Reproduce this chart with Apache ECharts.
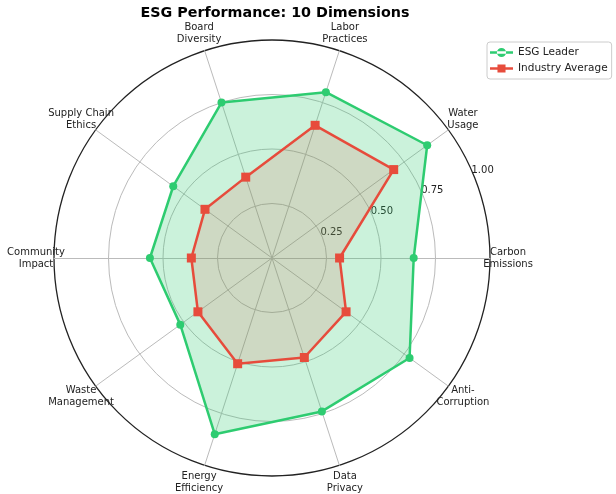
<!DOCTYPE html>
<html>
<head>
<meta charset="utf-8">
<script src="https://cdn.jsdelivr.net/npm/echarts@6/dist/echarts.min.js"></script>
<style>
  html, body { margin: 0; padding: 0; background: #fff; }
  #chart { width: 616px; height: 494px; }
</style>
</head>
<body>
<div id="chart"></div>
<script>
// dimensions, counter-clockwise from the right
var dimensions = ['Carbon\nEmissions', 'Water\nUsage', 'Labor\nPractices', 'Board\nDiversity',
	'Supply Chain\nEthics', 'Community\nImpact', 'Waste\nManagement', 'Energy\nEfficiency',
	'Data\nPrivacy', 'Anti-\nCorruption'];
var esgLeader = [0.65, 0.88, 0.80, 0.75, 0.56, 0.56, 0.52, 0.85, 0.74, 0.78];
var industryAvg = [0.31, 0.69, 0.64, 0.39, 0.38, 0.37, 0.42, 0.51, 0.48, 0.42];
var seriesNames = ['ESG Leader', 'Industry Average'];
var radialTicks = [0, 0.25, 0.5, 0.75, 1.0];

var GREEN = '#2ecc71';
var RED = '#e74c3c';
var FONT = 'DejaVu Sans';

var center = [272, 258];
var radius = 218;

var chart = echarts.init(document.getElementById('chart'));

var indicators = dimensions.map(function (d) {
	return {name: d, min: 0, max: 1};
});

// legend icons: line with marker
var lineDot = 'path://M0,9h40v4h-40z M20,11m-8,0a8,8 0 1,0 16,0a8,8 0 1,0 -16,0z';
var lineSquare = 'path://M0,9h40v4h-40z M13,4h14v14h-14z';

var option = {
	backgroundColor: '#fff',
	animation: false,
	title: {
		text: 'ESG Performance: 10 Dimensions',
		left: 270,
		textAlign: 'center',
		top: 1,
		textStyle: {fontFamily: FONT, fontSize: 14.3, fontWeight: 'bold', color: '#000'}
	},
	legend: {
		orient: 'vertical',
		left: 487,
		top: 42,
		padding: [5, 4, 5, 3],
		itemGap: 5,
		itemWidth: 23,
		itemHeight: 11,
		borderColor: '#ccc',
		borderWidth: 1,
		borderRadius: 3,
		textStyle: {fontFamily: FONT, fontSize: 10.5, color: '#222'},
		data: [
			{name: seriesNames[0], icon: lineDot},
			{name: seriesNames[1], icon: lineSquare}
		]
	},
	radar: [
		{
			center: center,
			radius: radius,
			startAngle: 0,
			shape: 'circle',
			splitNumber: 4,
			indicator: indicators,
			axisName: {
				fontFamily: FONT,
				fontSize: 10,
				color: '#222',
				lineHeight: 12,
				align: 'center',
				verticalAlign: 'middle'
			},
			nameGap: 18,
			axisLine: {lineStyle: {color: '#bbb', width: 1}},
			splitLine: {lineStyle: {color: ['#bbb', '#bbb', '#bbb', '#bbb', 'rgba(0,0,0,0)'], width: 1}},
			splitArea: {show: false}
		},
		{
			// outer black frame
			center: center,
			radius: radius,
			startAngle: 0,
			shape: 'circle',
			splitNumber: 1,
			indicator: indicators.map(function (d) { return {name: '', min: 0, max: 1}; }),
			axisName: {show: false},
			axisLine: {show: false},
			splitLine: {lineStyle: {color: '#222', width: 1.3}},
			splitArea: {show: false}
		}
	],
	polar: {center: center, radius: radius},
	angleAxis: {
		type: 'value',
		startAngle: 22.5,
		min: 0,
		max: 360,
		show: false
	},
	radiusAxis: {
		type: 'value',
		min: 0,
		max: 1,
		interval: 0.25,
		axisLine: {show: false},
		axisTick: {show: false},
		splitLine: {show: false},
		axisLabel: {
			fontFamily: FONT,
			fontSize: 10,
			color: '#222',
			margin: 5,
			align: 'left',
			verticalAlign: 'middle',
			formatter: function (v) {
				return radialTicks.indexOf(v) > 0 ? v.toFixed(2) : '';
			}
		}
	},
	series: [
		{
			name: seriesNames[0],
			type: 'radar',
			radarIndex: 0,
			z: 3,
			symbol: 'circle',
			symbolSize: 8,
			lineStyle: {color: GREEN, width: 2.5},
			itemStyle: {color: GREEN},
			areaStyle: {color: GREEN, opacity: 0.25},
			data: [{value: esgLeader, name: seriesNames[0]}]
		},
		{
			name: seriesNames[1],
			type: 'radar',
			radarIndex: 0,
			z: 4,
			symbol: 'rect',
			symbolSize: 9,
			lineStyle: {color: RED, width: 2.5},
			itemStyle: {color: RED},
			areaStyle: {color: RED, opacity: 0.15},
			data: [{value: industryAvg, name: seriesNames[1]}]
		}
	]
};

chart.setOption(option);
</script>
</body>
</html>
